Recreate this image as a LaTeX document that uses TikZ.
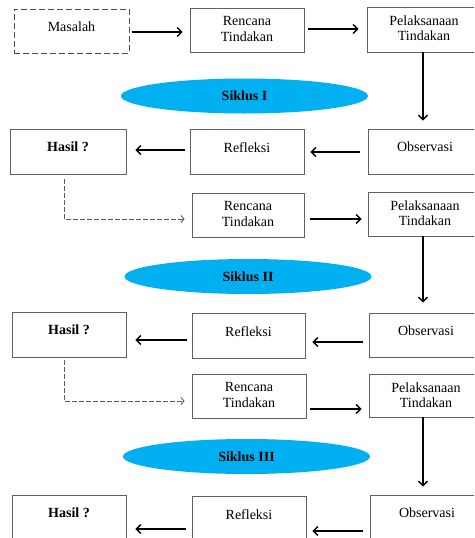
\documentclass[tikz,border=0pt]{standalone}
\usepackage{fontspec}
\setmainfont{Liberation Serif}
\usetikzlibrary{arrows.meta,shapes.geometric,calc}
\definecolor{sky}{HTML}{00B0F0}
\begin{document}
\begin{tikzpicture}[x=1pt,y=-1pt,
 box/.style={draw=black!62, line width=0.9pt, minimum width=114pt, minimum height=45pt, inner sep=0pt},
 txt/.style={font=\fontsize{14}{15.5}\selectfont, align=center, inner sep=0pt, anchor=north},
 one/.style={label={[txt,yshift=-13.5pt]north:#1}},
 two/.style={label={[txt,yshift=-9pt]north:#1}},
 arr/.style={line width=1.3pt, -{Straight Barb[length=4.5pt,width=9pt]}},
 dsh/.style={draw=black!65, line width=0.9pt, dash pattern=on 4.5pt off 2.5pt, -{Straight Barb[length=3pt,width=7pt]}},
 siklus/.style={ellipse, fill=sky, draw=none, inner sep=0pt, minimum width=247pt, minimum height=35pt, font=\fontsize{14}{16}\selectfont\bfseries}
]
\useasboundingbox (0,0) rectangle (474,538);
\clip (0,0) rectangle (474,538);

% row 1
\node[box, draw=black!70, dash pattern=on 6pt off 3pt, minimum width=115pt, minimum height=44pt, one={Masalah}] (m) at (71.5,31) {};
\node[box, minimum height=44pt, two={Rencana\\Tindakan}] (r1) at (247,30) {};
\node[box, two={Pelaksanaan\\Tindakan}] (p1) at (424,29.5) {};
\node[siklus] (s1) at (244.5,96) {Siklus I};

% row 2
\node[box, minimum width=116pt, one={\textbf{Hasil ?}}] (h2) at (68,151.5) {};
\node[box, one={Refleksi}] (ref2) at (247,151.5) {};
\node[box, one={Observasi}] (o2) at (425,151.5) {};
\node[box, minimum width=112pt, minimum height=44pt, two={Rencana\\Tindakan}] (ren2) at (248,215) {};
\node[box, minimum height=44pt, two={Pelaksanaan\\Tindakan}] (p2) at (425,214) {};
\node[siklus] (s2) at (248,276.5) {Siklus II};

% row 3
\node[box, one={\textbf{Hasil ?}}] (h3) at (69,334.5) {};
\node[box, minimum width=113pt, one={Refleksi}] (ref3) at (248.5,336) {};
\node[box, minimum height=44pt, one={Observasi}] (o3) at (426,335) {};
\node[box, minimum height=44pt, two={Rencana\\Tindakan}] (ren3) at (249,396) {};
\node[box, minimum height=43pt, two={Pelaksanaan\\Tindakan}] (p3) at (426,395.5) {};
\node[siklus] (s3) at (246.5,456.5) {Siklus III};

% row 4
\node[box, one={\textbf{Hasil ?}}] (h4) at (69,517.5) {};
\node[box, one={Refleksi}] (ref4) at (249,518.5) {};
\node[box, one={Observasi}] (o4) at (427,517.5) {};

% connectors
\draw[arr] ($(m.east)+(3,1)$) -- ($(m.east -| r1.west)+(-7,1)$);
\draw[arr] ($(r1.east)+(4,-1)$) -- ($(r1.east -| p1.west)+(-8,-1)$);
\draw[arr] ($(p1.south)+(-1,0)$) -- ($(p1.south |- o2.north)+(-1,-8)$);
\draw[arr] ($(o2.west)+(-8,0.5)$) -- ($(o2.west -| ref2.east)+(6,0.5)$);
\draw[arr] ($(ref2.west)+(-5,-1.5)$) -- ($(ref2.west -| h2.east)+(9,-1.5)$);
\draw[dsh] ($(h2.south)+(-4,5)$) |- ($(ren2.west)+(-7,4)$);
\draw[arr] ($(ren2.east)+(6,4)$) -- ($(ren2.east -| p2.west)+(-6,4)$);
\draw[arr] ($(p2.south)+(-2,0)$) -- ($(p2.south |- o3.north)+(-2,-10)$);
\draw[arr] ($(o3.west)+(-6,7)$) -- ($(o3.west -| ref3.east)+(7,7)$);
\draw[arr] ($(ref3.west)+(-5,4)$) -- ($(ref3.west -| h3.east)+(9,4)$);
\draw[dsh] ($(h3.south)+(-5,3)$) |- ($(ren3.west)+(-7,5)$);
\draw[arr] ($(ren3.east)+(4,13)$) -- ($(ren3.east -| p3.west)+(-7,13)$);
\draw[arr] ($(p3.south)+(-3,0)$) -- ($(p3.south |- o4.north)+(-3,-8)$);
\draw[arr] ($(o4.west)+(-7,13.5)$) -- ($(o4.west -| ref4.east)+(6,13.5)$);
\draw[arr] ($(ref4.west)+(-6,10.5)$) -- ($(ref4.west -| h4.east)+(9,10.5)$);
\end{tikzpicture}
\end{document}
